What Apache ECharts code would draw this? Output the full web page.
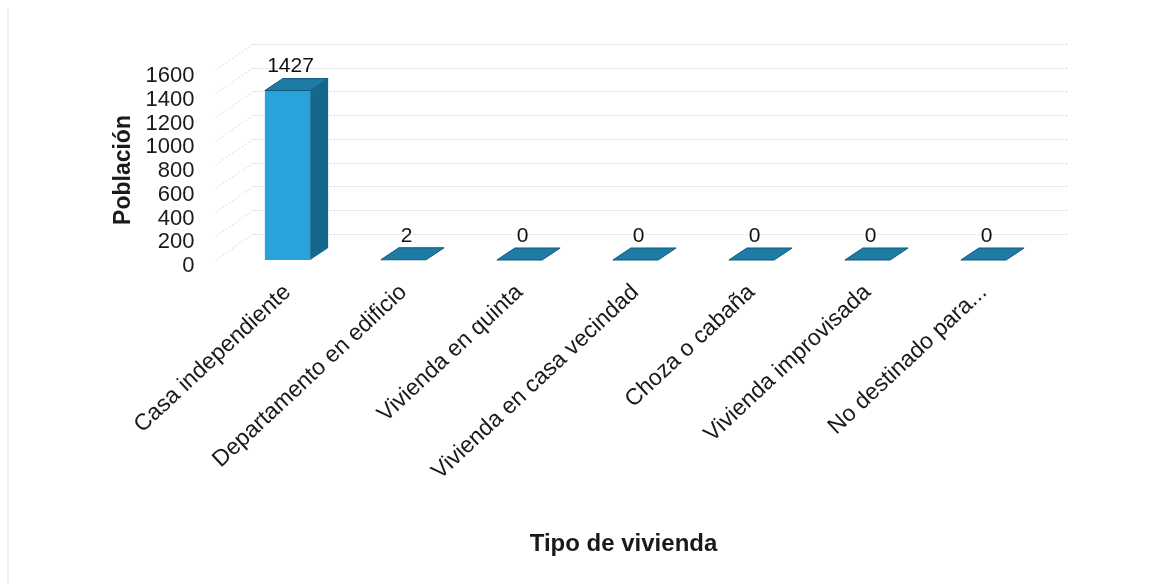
<!DOCTYPE html>
<html>
<head>
<meta charset="utf-8">
<script src="https://cdn.jsdelivr.net/npm/echarts@6/dist/echarts.min.js"></script>
<style>
  html, body { margin: 0; padding: 0; background: #ffffff; }
  #chart { width: 1153px; height: 584px; }
</style>
</head>
<body>
<div id="chart"></div>
<script>
// Tipos de vivienda y población registrada en cada uno
const categories = [
  'Casa independiente',
  'Departamento en edificio',
  'Vivienda en quinta',
  'Vivienda en casa vecindad',
  'Choza o cabaña',
  'Vivienda improvisada',
  'No destinado para...'
];
const poblacion = [1427, 2, 0, 0, 0, 0, 0];
const yTicks = [0, 200, 400, 600, 800, 1000, 1200, 1400, 1600];

// Profundidad de la perspectiva de las barras (px)
const DEPTH_X = 18;
const DEPTH_Y = -12;
// Desplazamiento de la pared de fondo respecto al frente
const WALL_X = 38;
const WALL_Y = -26;

const FRONT = '#2aa2da';
const SIDE = '#15688c';
const TOP = '#1d7ba5';
const EDGE = '#0f5a7a';
const FONT = 'Liberation Sans, Arial, sans-serif';

const chart = echarts.init(document.getElementById('chart'), null, { renderer: 'canvas' });

function renderBar(params, api) {
  const i = api.value(0);
  const v = api.value(1);
  const base = api.coord([i, 0]);
  const top = api.coord([i, v]);
  const w = api.size([1, 0])[0] * 0.39;
  const x0 = base[0] - w / 2;
  const x1 = base[0] + w / 2;
  const yb = base[1];
  const yt = top[1];
  const children = [];
  if (yb - yt > 0.5) {
    children.push({
      type: 'rect',
      shape: { x: x0, y: yt, width: w, height: yb - yt },
      style: { fill: FRONT }
    });
    children.push({
      type: 'polygon',
      shape: { points: [[x1, yt], [x1 + DEPTH_X, yt + DEPTH_Y], [x1 + DEPTH_X, yb + DEPTH_Y], [x1, yb]] },
      style: { fill: SIDE }
    });
  }
  children.push({
    type: 'polygon',
    shape: { points: [[x0, yt], [x1, yt], [x1 + DEPTH_X, yt + DEPTH_Y], [x0 + DEPTH_X, yt + DEPTH_Y]] },
    style: { fill: TOP, stroke: EDGE, lineWidth: 1 }
  });
  children.push({
    type: 'text',
    style: {
      text: String(v),
      x: base[0] + DEPTH_X / 2 - 6,
      y: yt + DEPTH_Y - 12,
      align: 'center',
      verticalAlign: 'middle',
      fontFamily: FONT,
      fontSize: 21,
      fill: '#111111'
    }
  });
  return { type: 'group', children: children };
}

// Líneas diagonales de la pared lateral, de cada marca del eje al fondo
function renderSideLine(params, api) {
  const v = api.value(0);
  const p = api.coord([0, v]);
  const left = p[0] - api.size([1, 0])[0] / 2 - 14;
  return {
    type: 'line',
    shape: { x1: left, y1: p[1], x2: left + WALL_X, y2: p[1] + WALL_Y },
    style: { stroke: '#dcdcdc', lineWidth: 1, lineDash: [2, 2] }
  };
}

chart.setOption({
  backgroundColor: '#ffffff',
  animation: false,
  graphic: [{
    type: 'line',
    shape: { x1: 8, y1: 8, x2: 8, y2: 584 },
    style: { stroke: '#e6e6e6', lineWidth: 1 }
  }],
  grid: [
    { left: 229.5, right: 111.5, top: 70, bottom: 324 },
    { left: 229.5 + WALL_X - 14, right: 111.5 - WALL_X + 10, top: 70 + WALL_Y, bottom: 324 - WALL_Y }
  ],
  xAxis: [
    {
      type: 'category',
      gridIndex: 0,
      data: categories,
      axisLine: { show: false },
      axisTick: { show: false },
      axisLabel: {
        rotate: 43,
        interval: 0,
        margin: 29,
        fontFamily: FONT,
        fontSize: 23,
        color: '#1a1a1a'
      },
      name: 'Tipo de vivienda',
      nameLocation: 'middle',
      nameGap: 272,
      nameTextStyle: {
        fontFamily: FONT,
        fontSize: 24,
        fontWeight: 'bold',
        color: '#1a1a1a',
        padding: [0, 24, 0, 0]
      }
    },
    {
      type: 'category',
      gridIndex: 1,
      data: categories,
      show: false
    }
  ],
  yAxis: [
    {
      type: 'value',
      gridIndex: 0,
      min: yTicks[0],
      max: yTicks[yTicks.length - 1],
      interval: 200,
      axisLine: { show: false },
      axisTick: { show: false },
      splitLine: { show: false },
      axisLabel: {
        margin: 35,
        verticalAlign: 'top',
        lineHeight: 12,
        formatter: function (v) { return String(v); },
        fontFamily: FONT,
        fontSize: 22,
        color: '#1a1a1a'
      },
      name: 'Población',
      nameLocation: 'middle',
      nameGap: 92,
      nameTextStyle: {
        fontFamily: FONT,
        fontSize: 23,
        fontWeight: 'bold',
        color: '#1a1a1a',
        padding: [0, 10, 0, 0]
      }
    },
    {
      type: 'value',
      gridIndex: 1,
      min: yTicks[0],
      max: yTicks[yTicks.length - 1],
      interval: 200,
      axisLine: { show: false },
      axisTick: { show: false },
      axisLabel: { show: false },
      splitLine: { show: true, lineStyle: { color: '#d8d8d8', width: 1, type: [2, 2] } }
    }
  ],
  series: [
    {
      type: 'custom',
      xAxisIndex: 0,
      yAxisIndex: 0,
      renderItem: renderSideLine,
      data: yTicks.map(function (t) { return [t]; }),
      encode: { y: 0 },
      silent: true,
      z: 1
    },
    {
      type: 'custom',
      xAxisIndex: 0,
      yAxisIndex: 0,
      renderItem: renderBar,
      data: poblacion.map(function (v, i) { return [i, v]; }),
      encode: { x: 0, y: 1 },
      z: 5
    }
  ]
});
</script>
</body>
</html>
